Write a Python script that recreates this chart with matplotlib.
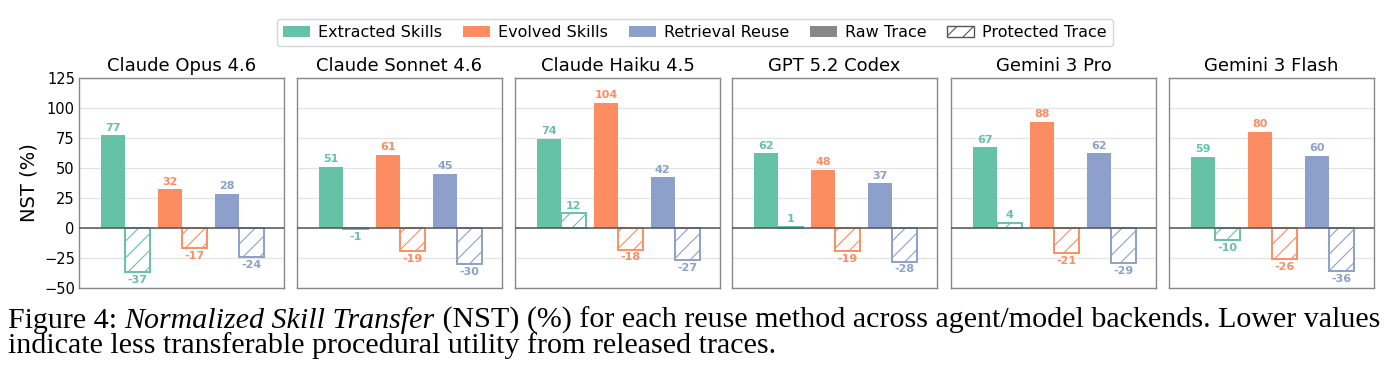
import matplotlib
matplotlib.use("Agg")
import matplotlib.pyplot as plt
from matplotlib.patches import Patch
import numpy as np

models = ["Claude Opus 4.6", "Claude Sonnet 4.6", "Claude Haiku 4.5",
          "GPT 5.2 Codex", "Gemini 3 Pro", "Gemini 3 Flash"]
methods = ["Extracted Skills", "Evolved Skills", "Retrieval Reuse"]

# NST (%) per model, raw trace vs protected trace
raw_extracted = [77, 51, 74, 62, 67, 59]
prot_extracted = [-37, -1, 12, 1, 4, -10]
raw_evolved = [32, 61, 104, 48, 88, 80]
prot_evolved = [-17, -19, -18, -19, -21, -26]
raw_retrieval = [28, 45, 42, 37, 62, 60]
prot_retrieval = [-24, -30, -27, -28, -29, -36]

colors = ["#66c2a5", "#fc8d62", "#8da0cb"]
yticks = [-50, -25, 0, 25, 50, 75, 100, 125]

raw = [raw_extracted, raw_evolved, raw_retrieval]
prot = [prot_extracted, prot_evolved, prot_retrieval]

plt.rcParams["hatch.linewidth"] = 0.8

W, H = 1393, 390
fig = plt.figure(figsize=(W / 100, H / 100), dpi=100)

lefts = [79, 297, 515, 732, 951, 1169]
ax_w, ax_top, ax_bot = 205, 77.7, 288
bw = 0.43

for i, name in enumerate(models):
    ax = fig.add_axes([lefts[i] / W, (H - ax_bot) / H, ax_w / W, (ax_bot - ax_top) / H])
    for j in range(3):
        r = raw[j][i]
        p = prot[j][i]
        ax.bar(j - bw / 2, r, bw, color=colors[j], zorder=3)
        ax.bar(j + bw / 2, p, bw, facecolor="white", edgecolor=colors[j],
               hatch="//", linewidth=1.4, zorder=3)
        for x, v in [(j - bw / 2, r), (j + bw / 2, p)]:
            if v >= 0:
                ax.annotate(str(v), (x, v), xytext=(0, 2), textcoords="offset points",
                            ha="center", va="bottom", fontsize=8, fontweight="bold",
                            color=colors[j])
            else:
                ax.annotate(str(v), (x, v), xytext=(0, -2), textcoords="offset points",
                            ha="center", va="top", fontsize=8, fontweight="bold",
                            color=colors[j])
    ax.axhline(0, color="#555555", linewidth=1.1, zorder=4)
    ax.set_ylim(-50, 125)
    ax.set_xlim(-0.81, 2.79)
    ax.set_yticks(yticks)
    ax.set_xticks([])
    ax.grid(axis="y", color="#e3e3e3", linewidth=0.9, zorder=0)
    ax.tick_params(axis="y", length=0, labelsize=10.5, pad=3)
    if i > 0:
        ax.set_yticklabels([])
    else:
        ax.set_ylabel("NST (%)", fontsize=14, labelpad=4)
    for s in ax.spines.values():
        s.set_color("#888888")
        s.set_linewidth(1.0)
    ax.set_title(name, fontsize=13, pad=5)

handles = [Patch(facecolor=c) for c in colors]
handles.append(Patch(facecolor="#888888"))
handles.append(Patch(facecolor="white", edgecolor="#555555", hatch="//"))
labels = methods + ["Raw Trace", "Protected Trace"]
fig.legend(handles, labels, loc="center", bbox_to_anchor=(695 / W, 1 - 32.5 / H),
           ncol=5, fontsize=11.5, frameon=True, edgecolor="#cccccc",
           handlelength=1.7, columnspacing=1.3, handletextpad=0.5,
           borderpad=0.4)

# caption below the chart
fig.canvas.draw()
rend = fig.canvas.get_renderer()
line1 = [("Figure 4: ", "normal"), ("Normalized Skill Transfer", "italic"),
         (" (NST) (%) for each reuse method across agent/model backends. Lower values", "normal")]
line2 = [("indicate less transferable procedural utility from released traces.", "normal")]

def draw_line(parts, x0, y, size):
    x = x0
    for txt, style in parts:
        t = fig.text(x / W, 1 - y / H, txt, fontsize=size, family="Liberation Serif",
                     style=style, ha="left", va="baseline")
        ext = t.get_window_extent(rend)
        x += ext.width
    return x - x0

# measure line 1 and scale font so it spans the width
probe = []
total = 0
for txt, style in line1:
    t = fig.text(0, 0, txt, fontsize=10, family="Liberation Serif", style=style)
    total += t.get_window_extent(rend).width
    probe.append(t)
for t in probe:
    t.remove()
size = 10 * 1370 / total

draw_line(line1, 8, 328, size)
draw_line(line2, 8, 353, size)

fig.savefig("out.png", dpi=100)
